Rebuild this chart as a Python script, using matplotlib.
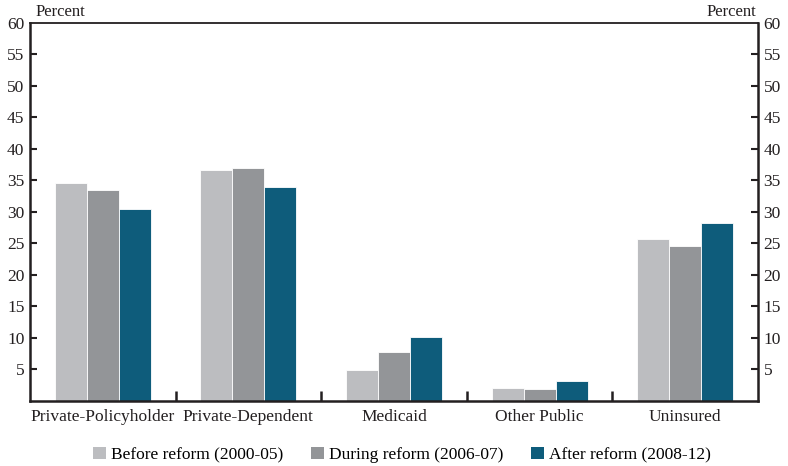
"""Insurance coverage by type, before/during/after reform."""

import matplotlib

matplotlib.use("Agg")
import matplotlib.pyplot as plt
import numpy as np
from matplotlib.patches import Patch

categories = ["Private-Policyholder", "Private-Dependent", "Medicaid", "Other Public", "Uninsured"]
series_names = ["Before reform (2000-05)", "During reform (2006-07)", "After reform (2008-12)"]
before = [34.5, 36.7, 4.9, 2.1, 25.7]
during = [33.5, 37.0, 7.7, 1.9, 24.5]
after = [30.5, 34.0, 10.2, 3.2, 28.2]
y_ticks = [5, 10, 15, 20, 25, 30, 35, 40, 45, 50, 55, 60]

colors = ["#bcbdc0", "#939598", "#0e5c7b"]
plt.rcParams["font.family"] = ["Liberation Serif", "DejaVu Serif"]

fig = plt.figure(figsize=(7.88, 4.66), dpi=100)
ax = fig.add_axes([0.038, 0.140, 0.924, 0.811])

x = np.arange(len(categories))
width = 0.22
for i, (vals, col) in enumerate(zip([before, during, after], colors)):
    ax.bar(x + (i - 1) * width, vals, width, color=col, edgecolor="white", linewidth=0.6, zorder=2)

ax.set_xlim(-0.5, len(categories) - 0.5)
ax.set_ylim(0, 60)

# y axis on both sides
ax.set_yticks(y_ticks)
ax.set_yticklabels([str(t) for t in y_ticks])
ax.tick_params(axis="y", direction="in", length=5, width=1.5, labelsize=12.5,
               left=True, right=True, labelleft=True, labelright=True, pad=4, colors="#231f20")
# hide the tick mark at 60 (it sits on the top spine)
for side in (ax.yaxis.get_major_ticks()[-1].tick1line, ax.yaxis.get_major_ticks()[-1].tick2line):
    side.set_visible(False)

# category labels with separators
ax.set_xticks(x)
ax.set_xticklabels(categories)
ax.tick_params(axis="x", length=0, labelsize=12.5, pad=6, colors="#231f20")
ax.set_xticks(x[:-1] + 0.5, minor=True)
ax.tick_params(axis="x", which="minor", direction="in", length=7, width=1.8, color="#231f20")

for s in ax.spines.values():
    s.set_color("#231f20")
    s.set_linewidth(1.3)
ax.spines["left"].set_linewidth(1.8)
ax.spines["bottom"].set_linewidth(1.8)
ax.spines["right"].set_linewidth(1.8)

ax.text(0.008, 1.008, "Percent", transform=ax.transAxes, ha="left", va="bottom", fontsize=12, color="#231f20")
ax.text(0.997, 1.008, "Percent", transform=ax.transAxes, ha="right", va="bottom", fontsize=12, color="#231f20")

handles = [Patch(facecolor=c, edgecolor="none") for c in colors]
fig.legend(handles, series_names, loc="lower center", bbox_to_anchor=(0.51, -0.027), ncol=3,
           frameon=False, fontsize=12.5, handlelength=0.75, handleheight=0.75,
           handletextpad=0.3, columnspacing=1.6)

fig.savefig("out.png", dpi=100)
plt.close(fig)
